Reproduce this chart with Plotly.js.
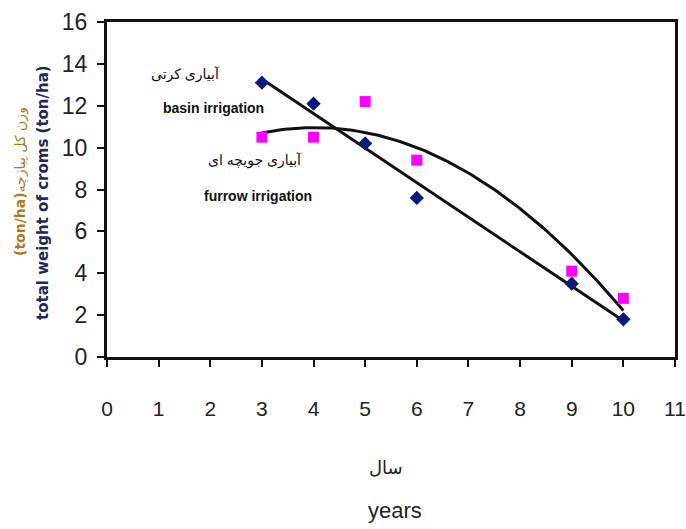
<!DOCTYPE html>
<html><head><meta charset="utf-8">
<script src="https://cdn.plot.ly/plotly-3.0.1.min.js"></script>
<style>html,body{margin:0;padding:0;background:#fff}#chart{width:686px;height:529px}</style>
</head><body><div id="chart"></div>
<script>
const years = [3, 4, 5, 6, 9, 10];
const basinWeight = [13.1, 12.1, 10.2, 7.6, 3.5, 1.8];
const furrowWeight = [10.5, 10.5, 12.2, 9.4, 4.1, 2.8];
const xTicks = [0,1,2,3,4,5,6,7,8,9,10,11];
const yTicks = [0,2,4,6,8,10,12,14,16];

function linFit(x, y) {
  const n = x.length, mx = x.reduce((a,b)=>a+b)/n, my = y.reduce((a,b)=>a+b)/n;
  let sxy = 0, sxx = 0;
  for (let i=0;i<n;i++){sxy+=(x[i]-mx)*(y[i]-my);sxx+=(x[i]-mx)**2;}
  const b = sxy/sxx; return t => my + b*(t-mx);
}
function quadFit(x, y) {
  let S=[0,0,0,0,0], T=[0,0,0];
  for (let i=0;i<x.length;i++){
    for (let k=0;k<5;k++) S[k]+=x[i]**k;
    for (let k=0;k<3;k++) T[k]+=y[i]*x[i]**k;
  }
  const M=[[S[0],S[1],S[2],T[0]],[S[1],S[2],S[3],T[1]],[S[2],S[3],S[4],T[2]]];
  for (let i=0;i<3;i++){
    for (let j=i+1;j<3;j++){const f=M[j][i]/M[i][i];for(let k=i;k<4;k++)M[j][k]-=f*M[i][k];}
  }
  const c=M[2][3]/M[2][2];
  const b=(M[1][3]-M[1][2]*c)/M[1][1];
  const a=(M[0][3]-M[0][1]*b-M[0][2]*c)/M[0][0];
  return t => a + b*t + c*t*t;
}
const lf = linFit(years, basinWeight);
const qf = quadFit(years, furrowWeight);
const xs = [];
for (let t = years[0]; t <= years[years.length-1] + 1e-9; t += 0.05) xs.push(t);

const data = [
  {x: xs, y: xs.map(lf), mode: 'lines', line: {color: '#111', width: 3}, hoverinfo: 'skip'},
  {x: xs, y: xs.map(qf), mode: 'lines', line: {color: '#111', width: 3}, hoverinfo: 'skip'},
  {x: years, y: basinWeight, mode: 'markers', marker: {symbol: 'diamond', size: 11, color: '#0b1a7a'}},
  {x: years, y: furrowWeight, mode: 'markers', marker: {symbol: 'square', size: 11, color: '#ff00ff'}}
];

const tickFont = {family: '"Liberation Sans Narrow", "Arial Narrow", "Liberation Sans", Arial, sans-serif', size: 21, color: '#222'};
const annFont = {family: '"Liberation Sans", "DejaVu Sans", sans-serif', size: 14, color: '#111'};
const px = v => (v-107)/568, py = v => (357-v)/335;
const ann = (x, y, text, font, extra) => Object.assign({xref: 'paper', yref: 'paper', x: px(x), y: py(y), text: text,
  showarrow: false, xanchor: 'center', yanchor: 'middle', font: font}, extra || {});

const layout = {
  width: 686, height: 529,
  margin: {l: 107, r: 11, t: 22, b: 172},
  paper_bgcolor: '#fff', plot_bgcolor: '#fff',
  showlegend: false,
  xaxis: {range: [0, 11], tickvals: xTicks, ticks: 'outside', ticklen: 7, tickwidth: 2, tickcolor: '#111',
          showgrid: false, zeroline: false, showline: true, linecolor: '#111', linewidth: 3, mirror: true,
          tickfont: tickFont, ticklabelstandoff: 24, fixedrange: true},
  yaxis: {range: [0, 16], tickvals: yTicks, ticks: 'outside', ticklen: 7, tickwidth: 2, tickcolor: '#111',
          showgrid: false, zeroline: false, showline: true, linecolor: '#111', linewidth: 3, mirror: true,
          tickfont: Object.assign({}, tickFont, {size: 23}), ticklabelstandoff: 5, fixedrange: true},
  annotations: [
    ann(185, 74, 'آبیاری کرتی', annFont),
    ann(213, 108, '<b>basin irrigation</b>', annFont),
    ann(255, 161, 'آبیاری جویچه ای', annFont),
    ann(258, 196, '<b>furrow irrigation</b>', annFont),
    ann(386, 467, 'سال', {family: '"DejaVu Sans", sans-serif', size: 18, color: '#222'}),
    ann(395, 510, 'years', {family: '"Liberation Sans Narrow", "Arial Narrow", "Liberation Sans", Arial, sans-serif', size: 22, color: '#222'}),
    ann(20, 182, '<b>(ton/ha)</b>وزن کل پیازچه', {family: '"DejaVu Sans", sans-serif', size: 14, color: '#b07818'}, {textangle: -90}),
    ann(43, 193, '<b>total weight of croms (ton/ha)</b>', {family: '"DejaVu Sans", sans-serif', size: 15, color: '#1c2a5c'}, {textangle: -90})
  ]
};
Plotly.newPlot('chart', data, layout, {displayModeBar: false, staticPlot: true});
</script></body></html>
